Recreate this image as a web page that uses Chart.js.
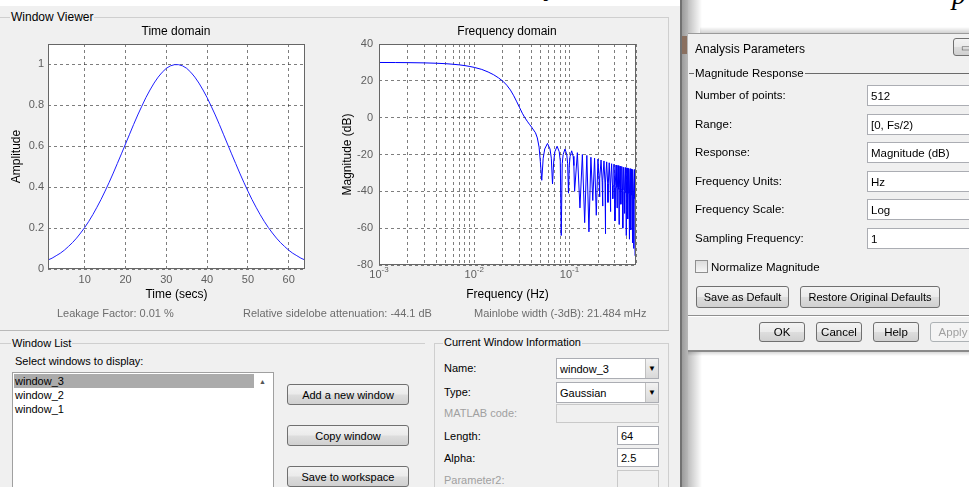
<!DOCTYPE html>
<html><head><meta charset="utf-8">
<script src="https://cdn.jsdelivr.net/npm/chart.js@4"></script>
<style>
*{box-sizing:border-box}
body{margin:0;width:969px;height:487px;overflow:hidden;background:#fff;position:relative;font-family:"Liberation Sans",Arial,sans-serif;color:#000}
.a{position:absolute}
.t{position:absolute;white-space:nowrap;line-height:14px;height:14px}
.ln{position:absolute;background:#cfcfcf}
.btn{position:absolute;border:1px solid #707070;border-radius:3px;background:linear-gradient(#f3f3f3 0%,#ebebeb 48%,#dddddd 52%,#d0d0d0 100%);display:flex;align-items:center;justify-content:center;white-space:nowrap}
.inp{position:absolute;background:#fff;border:1px solid #abadb3;display:flex;align-items:center;padding-left:3px;white-space:nowrap;overflow:hidden}
.dis{position:absolute;background:#f0f0f0;border:1px solid #c9c9c9}
.arr{position:absolute;right:0;top:0;bottom:0;width:13px;background:linear-gradient(#f2f2f2,#d9d9d9);border-left:1px solid #c0c0c0;font-size:8px;display:flex;align-items:center;justify-content:center}
canvas{position:absolute}
</style>
</head><body>
<div class="a" style="left:0;top:6px;width:680px;height:481px;background:#f0f0f0"></div>

<!-- glyph fragments at the top -->
<div class="a" style="left:546px;top:-29px;font:italic 28px 'Liberation Serif',serif;line-height:30px">y</div>
<div class="a" style="left:952px;top:-20px;font:italic 28px 'Liberation Serif',serif;line-height:30px">p</div>

<!-- Window Viewer group -->
<div class="ln" style="left:0;top:17px;width:668px;height:1px"></div>
<div class="ln" style="left:668px;top:17px;width:1px;height:313px"></div>
<div class="ln" style="left:0;top:330px;width:669px;height:1px;background:#b9b9b9"></div>
<div class="t" style="left:10px;top:10px;font-size:12px;background:#f0f0f0;padding:0 1px">Window Viewer</div>

<canvas id="c1" width="330" height="290" style="left:0;top:20px"></canvas>
<canvas id="c2" width="330" height="290" style="left:330px;top:20px"></canvas>
<div class="t" style="left:76px;top:24px;width:200px;text-align:center;font-size:12px">Time domain</div>
<div class="t" style="left:407px;top:24px;width:200px;text-align:center;font-size:12px">Frequency domain</div>

<div class="t" style="left:57px;top:306px;font-size:11px;color:#6d6d6d">Leakage Factor: 0.01 %</div>
<div class="t" style="left:243px;top:306px;font-size:11px;color:#6d6d6d">Relative sidelobe attenuation: -44.1 dB</div>
<div class="t" style="left:474px;top:306px;font-size:11px;color:#6d6d6d">Mainlobe width (-3dB): 21.484 mHz</div>

<!-- Window List group -->
<div class="ln" style="left:0;top:343px;width:425px;height:1px"></div>
<div class="t" style="left:11px;top:336px;font-size:11px;background:#f0f0f0;padding:0 1px">Window List</div>
<div class="t" style="left:15px;top:354px;font-size:11px">Select windows to display:</div>
<div class="a" style="left:12px;top:372px;width:262px;height:130px;background:#fff;border:1px solid #a0a0a0"></div>
<div class="a" style="left:14px;top:374px;width:240px;height:14px;background:#ababab"></div>
<div class="t" style="left:15px;top:374px;font-size:11px">window_3</div>
<div class="t" style="left:15px;top:388px;font-size:11px">window_2</div>
<div class="t" style="left:15px;top:402px;font-size:11px">window_1</div>
<div class="t" style="left:259px;top:375px;font-size:7px;color:#555">▲</div>

<div class="btn" style="left:287px;top:384px;width:122px;height:21px;font-size:11px">Add a new window</div>
<div class="btn" style="left:287px;top:425px;width:122px;height:21px;font-size:11px">Copy window</div>
<div class="btn" style="left:287px;top:466px;width:122px;height:21px;font-size:11px">Save to workspace</div>

<!-- Current Window Information group -->
<div class="ln" style="left:434px;top:343px;width:235px;height:1px"></div>
<div class="ln" style="left:434px;top:343px;width:1px;height:144px"></div>
<div class="ln" style="left:668px;top:343px;width:1px;height:144px"></div>
<div class="t" style="left:443px;top:335px;font-size:11px;background:#f0f0f0;padding:0 1px">Current Window Information</div>
<div class="t" style="left:444px;top:361px;font-size:11px">Name:</div>
<div class="inp" style="left:556px;top:358px;width:103px;height:21px;font-size:11px">window_3<div class="arr">▼</div></div>
<div class="t" style="left:444px;top:385px;font-size:11px">Type:</div>
<div class="inp" style="left:556px;top:382px;width:103px;height:21px;font-size:11px">Gaussian<div class="arr">▼</div></div>
<div class="t" style="left:444px;top:406px;font-size:11px;color:#a0a0a0">MATLAB code:</div>
<div class="dis" style="left:556px;top:404px;width:103px;height:19px"></div>
<div class="t" style="left:444px;top:429px;font-size:11px">Length:</div>
<div class="inp" style="left:617px;top:426px;width:42px;height:19px;font-size:11px">64</div>
<div class="t" style="left:444px;top:451px;font-size:11px">Alpha:</div>
<div class="inp" style="left:617px;top:448px;width:42px;height:19px;font-size:11px">2.5</div>
<div class="t" style="left:444px;top:473px;font-size:11px;color:#a0a0a0">Parameter2:</div>
<div class="dis" style="left:617px;top:470px;width:42px;height:19px"></div>

<!-- main window edge and dialog shadow -->
<div class="a" style="left:680px;top:0;width:2px;height:487px;background:#727272"></div>
<div class="a" style="left:682px;top:0;width:6px;height:487px;background:linear-gradient(to right,#9c9c9c,#b8b8b8)"></div>
<div class="a" style="left:682px;top:36px;width:5px;height:18px;background:#8a7060"></div>
<div class="a" style="left:688px;top:0;width:14px;height:33px;background:linear-gradient(to right,rgba(0,0,0,0.25),rgba(0,0,0,0))"></div>
<div class="a" style="left:688px;top:352px;width:14px;height:135px;background:linear-gradient(to right,rgba(0,0,0,0.25),rgba(0,0,0,0))"></div>
<div class="a" style="left:700px;top:27px;width:269px;height:6px;background:linear-gradient(rgba(0,0,0,0),rgba(0,0,0,0.18))"></div>

<!-- Analysis Parameters dialog -->
<div class="a" style="left:688px;top:33px;width:281px;height:319px;background:#f0f0f0;border-top:1px solid #9a9a9a;border-bottom:2px solid #8a8a8a"></div>
<div class="a" style="left:688px;top:352px;width:281px;height:4px;background:linear-gradient(rgba(0,0,0,0.15),rgba(0,0,0,0))"></div>
<div class="t" style="left:695px;top:41px;font-size:12px;line-height:16px;height:16px">Analysis Parameters</div>
<div class="btn" style="left:953px;top:38px;width:24px;height:18px;font-size:10px;color:#555">▭</div>

<div class="a" style="left:689px;top:73px;width:280px;height:1px;background:#6a6a6a"></div>
<div class="t" style="left:694px;top:66px;font-size:11.5px;background:#f0f0f0;padding:0 1px">Magnitude Response</div>

<div class="t" style="left:695px;top:88px;font-size:11.5px">Number of points:</div>
<div class="inp" style="left:867px;top:85px;width:110px;height:21px;font-size:11.5px">512</div>
<div class="t" style="left:695px;top:117px;font-size:11.5px">Range:</div>
<div class="inp" style="left:867px;top:114px;width:110px;height:21px;font-size:11.5px">[0, Fs/2)</div>
<div class="t" style="left:695px;top:145px;font-size:11.5px">Response:</div>
<div class="inp" style="left:867px;top:142px;width:110px;height:21px;font-size:11.5px">Magnitude (dB)</div>
<div class="t" style="left:695px;top:174px;font-size:11.5px">Frequency Units:</div>
<div class="inp" style="left:867px;top:171px;width:110px;height:21px;font-size:11.5px">Hz</div>
<div class="t" style="left:695px;top:202px;font-size:11.5px">Frequency Scale:</div>
<div class="inp" style="left:867px;top:199px;width:110px;height:21px;font-size:11.5px">Log</div>
<div class="t" style="left:695px;top:231px;font-size:11.5px">Sampling Frequency:</div>
<div class="inp" style="left:867px;top:228px;width:110px;height:21px;font-size:11.5px">1</div>

<div class="a" style="left:695px;top:260px;width:13px;height:13px;border:1px solid #8f8f8f;background:linear-gradient(#dcdcdc,#f6f6f6)"></div>
<div class="t" style="left:711px;top:260px;font-size:11.5px">Normalize Magnitude</div>

<div class="btn" style="left:696px;top:286px;width:93px;height:22px;font-size:11px">Save as Default</div>
<div class="btn" style="left:800px;top:286px;width:140px;height:22px;font-size:11px">Restore Original Defaults</div>

<div class="a" style="left:688px;top:315px;width:281px;height:1px;background:#8f8f8f"></div>
<div class="a" style="left:688px;top:316px;width:281px;height:1px;background:#fff"></div>

<div class="btn" style="left:759px;top:322px;width:46px;height:20px;font-size:11.5px">OK</div>
<div class="btn" style="left:816px;top:322px;width:46px;height:20px;font-size:11.5px">Cancel</div>
<div class="btn" style="left:873px;top:322px;width:46px;height:20px;font-size:11.5px">Help</div>
<div class="btn" style="left:930px;top:322px;width:46px;height:20px;font-size:11.5px;color:#a0a0a0;border-color:#adb2b5;background:#f4f4f4">Apply</div>

<script>
// ---- data ----
const timeIdx = [1,2,3,4,5,6,7,8,9,10,11,12,13,14,15,16,17,18,19,20,21,22,23,24,25,26,27,28,29,30,31,32,
                 33,34,35,36,37,38,39,40,41,42,43,44,45,46,47,48,49,50,51,52,53,54,55,56,57,58,59,60,61,62,63,64];
const timeAmp = [0.044,0.053,0.065,0.077,0.092,0.110,0.129,0.151,0.176,0.203,0.233,0.266,0.302,0.340,0.381,0.424,
                 0.469,0.516,0.563,0.611,0.659,0.707,0.753,0.796,0.838,0.875,0.909,0.938,0.962,0.981,0.993,0.999,
                 0.999,0.993,0.981,0.962,0.938,0.909,0.875,0.838,0.796,0.753,0.707,0.659,0.611,0.563,0.516,0.469,
                 0.424,0.381,0.340,0.302,0.266,0.233,0.203,0.176,0.151,0.129,0.110,0.092,0.077,0.065,0.053,0.044];
const timeXTicks = [10,20,30,40,50,60];
const timeYTicks = [0,0.2,0.4,0.6,0.8,1];

const freqHz = [0.001,0.0015,0.002,0.003,0.004,0.005,0.006,0.007,0.008,0.009,
  0.010,0.012,0.014,0.016,0.018,0.020,0.022,0.024,0.026,0.028,0.030,
  0.032,0.034,0.036,0.038,0.040,0.042,0.044,0.046,0.048,0.0495,
  0.0512,0.0530,0.0550,0.0588,0.0625,0.0645,
  0.0664,0.0684,0.0703,0.0742,0.0781,0.0801,
  0.0820,0.0840,0.0859,0.0898,0.0938,0.0957,
  0.0977,0.0996,0.1016,0.1055,0.1094,0.1113,
  0.1133,0.1211,0.1289,0.1367,0.1445,0.1523,0.1602,0.1680,0.1758,0.1836,0.1914,0.1992,
  0.2050,0.2070,0.2090,0.2148,0.2207,0.2227,0.2247,0.2305,0.2363,0.2383,0.2403,0.2461,
  0.2519,0.2539,0.2559,0.2617,0.2675,0.2695,0.2715,0.2773,0.2832,0.2852,0.2872,0.2930,
  0.2988,0.3008,0.3028,0.3086,0.3144,0.3164,0.3184,0.3242,0.3300,0.3320,0.3340,0.3398,
  0.3457,0.3477,0.3497,0.3555,0.3613,0.3633,0.3653,0.3711,0.3769,0.3789,0.3809,0.3867,
  0.3925,0.3945,0.3965,0.4023,0.4082,0.4102,0.4122,0.4180,0.4238,0.4258,0.4278,0.4336,
  0.4394,0.4414,0.4434,0.4492,0.4550,0.4570,0.4590,0.4648,0.4707,0.4727,0.4747,0.4805,
  0.4863,0.4883,0.4903,0.4961,0.4990];
const freqDb = [29.97,29.93,29.88,29.75,29.55,29.31,29.0,28.66,28.25,27.79,
  27.3,26.2,24.8,23.3,21.6,19.8,17.6,15.0,11.9,8.6,5.4,
  2.4,0.0,-1.9,-3.6,-5.1,-6.7,-8.2,-11.0,-16.0,-24.0,
  -34,-22,-17,-14,-17,-22,
  -36,-23.5,-18.5,-15.5,-18.5,-23.5,
  -64,-25,-20,-17,-20,-25,
  -41,-26,-21,-18,-21,-26,
  -40,-19,-49,-20,-57,-20.5,-62,-21.5,-45,-22,-53,-22.5,
  -34,-43,-33,-23,-35,-48,-34,-23.5,-36,-63,-35,-24,
  -36,-46,-36,-24.5,-37,-51,-36,-25,-37,-44,-37,-25.3,
  -38,-56,-37,-25.7,-38,-49,-38,-26,-39,-58,-38,-26.3,
  -39,-47,-39,-26.6,-40,-60,-39,-26.9,-40,-52,-40,-27.1,
  -41,-64,-40,-27.3,-41,-55,-41,-27.5,-42,-66,-41,-27.7,
  -42,-61,-42,-27.9,-43,-68,-42,-28.1,-43,-71,-43,-28.2,
  -44,-75,-43,-28.4,-39];
const freqMajor = [0.001,0.01,0.1];
const freqMajorExp = ['-3','-2','-1'];
const freqMinor = [0.002,0.003,0.004,0.005,0.006,0.007,0.008,0.009,
                   0.02,0.03,0.04,0.05,0.06,0.07,0.08,0.09,0.2,0.3,0.4,0.5];
const freqYTicks = [-80,-60,-40,-20,0,20,40];

// ---- charts ----
const FONT = '"Liberation Sans", Arial, sans-serif';
Chart.defaults.font.family = FONT;
const TICKCOL = '#5e5e5e';
const GRIDCOL = 'rgba(40,40,40,0.6)';

const boxPlugin = {
  id: 'box',
  beforeDraw(c) {
    const a = c.chartArea, ctx = c.ctx;
    ctx.save(); ctx.fillStyle = '#fff';
    ctx.fillRect(a.left, a.top, a.right - a.left, a.bottom - a.top);
    ctx.restore();
  },
  afterDraw(c) {
    const a = c.chartArea, ctx = c.ctx;
    ctx.save(); ctx.strokeStyle = '#666'; ctx.lineWidth = 1;
    ctx.strokeRect(Math.round(a.left) + 0.5, Math.round(a.top) + 0.5,
                   Math.round(a.right - a.left) - 1, Math.round(a.bottom - a.top) - 1);
    ctx.restore();
  }
};

const supPlugin = {
  id: 'sup',
  afterDraw(c) {
    const s = c.scales.x, ctx = c.ctx;
    ctx.save();
    ctx.fillStyle = TICKCOL;
    ctx.textBaseline = 'middle';
    freqMajor.forEach((v, i) => {
      const x = s.getPixelForValue(v);
      ctx.font = '11px ' + FONT;
      const w1 = ctx.measureText('10').width;
      ctx.font = '8px ' + FONT;
      const w2 = ctx.measureText(freqMajorExp[i]).width;
      const x0 = x - (w1 + w2) / 2;
      const y = c.chartArea.bottom + 10;
      ctx.font = '11px ' + FONT;
      ctx.textAlign = 'left';
      ctx.fillText('10', x0, y);
      ctx.font = '8px ' + FONT;
      ctx.fillText(freqMajorExp[i], x0 + w1, y - 5);
    });
    ctx.restore();
  }
};

function common(padRight) {
  return {
    responsive: false, animation: false, devicePixelRatio: 1, events: [],
    layout: { padding: { top: 24, right: padRight, left: 0, bottom: 0 } },
    plugins: { legend: { display: false }, tooltip: { enabled: false }, title: { display: false } },
    elements: { point: { radius: 0 }, line: { tension: 0 } }
  };
}
const gridOpt = { color: GRIDCOL, lineWidth: 1, drawTicks: false };
const borderOpt = { display: false, dash: [3, 3] };

const o1 = common(25);
o1.scales = {
  x: {
    type: 'linear', min: 1, max: 64,
    afterBuildTicks: s => { s.ticks = timeXTicks.map(v => ({ value: v })); },
    afterFit: s => { s.height = 41; },
    grid: gridOpt, border: borderOpt,
    ticks: { color: TICKCOL, font: { size: 11 }, padding: 4, maxRotation: 0, autoSkip: false },
    title: { display: true, text: 'Time (secs)', color: '#000', font: { size: 12 }, padding: 8 }
  },
  y: {
    type: 'linear', min: 0, max: 1.1,
    afterBuildTicks: s => { s.ticks = timeYTicks.map(v => ({ value: v })); },
    afterFit: s => { s.width = 48; },
    grid: gridOpt, border: borderOpt,
    ticks: { color: TICKCOL, font: { size: 11 }, padding: 4, callback: v => String(v) },
    title: { display: true, text: 'Amplitude', color: '#000', font: { size: 12 }, padding: 9 }
  }
};
new Chart(document.getElementById('c1'), {
  type: 'line',
  data: { datasets: [{ data: timeIdx.map((x, i) => ({ x: x, y: timeAmp[i] })), borderColor: '#2020ff', borderWidth: 1, fill: false }] },
  options: o1,
  plugins: [boxPlugin]
});

const o2 = common(24);
o2.scales = {
  x: {
    type: 'logarithmic', min: 0.001, max: 0.5,
    afterBuildTicks: s => { s.ticks = freqMajor.concat(freqMinor).sort((a, b) => a - b).map(v => ({ value: v })); },
    afterFit: s => { s.height = 45; },
    grid: gridOpt, border: borderOpt,
    ticks: { color: TICKCOL, font: { size: 11 }, padding: 4, maxRotation: 0, autoSkip: false, callback: () => '' },
    title: { display: true, text: 'Frequency (Hz)', color: '#000', font: { size: 12 }, padding: 8 }
  },
  y: {
    type: 'linear', min: -80, max: 40,
    afterBuildTicks: s => { s.ticks = freqYTicks.map(v => ({ value: v })); },
    afterFit: s => { s.width = 49; },
    grid: gridOpt, border: borderOpt,
    ticks: { color: TICKCOL, font: { size: 11 }, padding: 6, callback: v => String(v) },
    title: { display: true, text: 'Magnitude (dB)', color: '#000', font: { size: 12 }, padding: 10 }
  }
};
new Chart(document.getElementById('c2'), {
  type: 'line',
  data: { datasets: [{ data: freqHz.map((x, i) => ({ x: x, y: freqDb[i] })), borderColor: '#0000ff', borderWidth: 1, fill: false }] },
  options: o2,
  plugins: [boxPlugin, supPlugin]
});
</script>
</body></html>
